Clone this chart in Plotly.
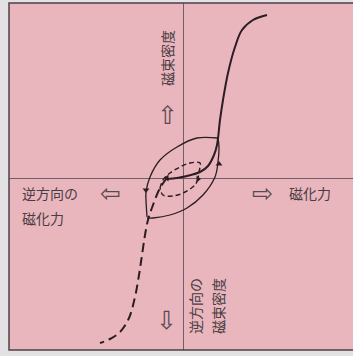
import plotly.graph_objects as go

# magnetizing force H (x) and flux density B (y), arbitrary units, origin at axis crossing
upper_h = [-16, -6, 4, 17, 25, 31, 34, 37, 40, 45, 52, 59, 70, 84]
upper_b = [-1, 0, 2, 6, 12, 23, 33, 58, 78, 105, 131, 148, 158, 163]

lower_h = [-16, -23, -30, -35, -38, -41, -44, -48, -54, -63, -73, -83]
lower_b = [0, -10, -27, -42, -57, -77, -97, -119, -140, -154, -161, -165]

loop_top_h = [35, 14, -6, -23, -33, -37, -37, -36]
loop_top_b = [40, 40, 31, 18, 1, -14, -22, -39]
loop_bot_h = [-36, -30, -13, 4, 20, 32, 35, 36, 35]
loop_bot_b = [-40, -40, -37, -30, -17, 1, 16, 31, 40]

inner_top_h = [-23, -20, -13, -3, 7, 17, 16, 15]
inner_top_b = [-10, -2, 5, 11, 15, 15, 6, -1]
inner_bot_h = [15, 12, 2, -10, -20, -23]
inner_bot_b = [-1, -7, -14, -18, -17, -10]

arrow_h = [-37, 36, -16, 15]
arrow_b = [-12, 14, 0, -1]
arrow_sym = ["triangle-down", "triangle-up", "triangle-left", "triangle-right"]

ink = "#2b1d22"
fig = go.Figure()
fig.add_trace(go.Scatter(x=upper_h, y=upper_b, mode="lines", line=dict(color=ink, width=2, shape="spline")))
fig.add_trace(go.Scatter(x=lower_h, y=lower_b, mode="lines",
                         line=dict(color=ink, width=2, shape="spline", dash="9px,5px")))
fig.add_trace(go.Scatter(x=loop_top_h, y=loop_top_b, mode="lines", line=dict(color=ink, width=1.3, shape="spline")))
fig.add_trace(go.Scatter(x=loop_bot_h, y=loop_bot_b, mode="lines", line=dict(color=ink, width=1.3, shape="spline")))
fig.add_trace(go.Scatter(x=inner_top_h, y=inner_top_b, mode="lines",
                         line=dict(color=ink, width=1.4, shape="spline", dash="5px,3px")))
fig.add_trace(go.Scatter(x=inner_bot_h, y=inner_bot_b, mode="lines",
                         line=dict(color=ink, width=1.4, shape="spline", dash="5px,3px")))
fig.add_trace(go.Scatter(x=arrow_h, y=arrow_b, mode="markers",
                         marker=dict(symbol=arrow_sym, size=6, color=ink)))

txt = "#4a3e44"
jp = "Noto Sans CJK JP"
notes = [
    (-16, 120, "磁束密度", -90, "center"),
    (12, -128, "逆方向の", -90, "center"),
    (35, -128, "磁束密度", -90, "center"),
    (-163, -15, "逆方向の", 0, "left"),
    (-163, -40, "磁化力", 0, "left"),
    (104, -15, "磁化力", 0, "left"),
]
for x, y, t, ang, anc in notes:
    fig.add_annotation(x=x, y=y, text=t, textangle=ang, xanchor=anc, yanchor="middle", showarrow=False,
                       font=dict(family=jp, size=14, color=txt))
for x, y, t in [(-16, 63, "⇧"), (-73, -15, "⇦"), (79, -15, "⇨"), (-17, -142, "⇩")]:
    fig.add_annotation(x=x, y=y, text=t, showarrow=False, xanchor="center", yanchor="middle",
                       font=dict(family="DejaVu Sans", size=25, color="#5a4a50"))

fig.add_shape(type="path", xref="paper", yref="paper", path="M 1.02 1 L 0 1 L 0 0 L 1.02 0",
              line=dict(color="#4e4248", width=1.5))

fig.update_xaxes(range=[-174, 170], showgrid=False, showticklabels=False, ticks="",
                 zeroline=True, zerolinecolor="#6e6066", zerolinewidth=1)
fig.update_yaxes(range=[-172, 175], showgrid=False, showticklabels=False, ticks="",
                 zeroline=True, zerolinecolor="#6e6066", zerolinewidth=1)
fig.update_layout(width=353, height=356, margin=dict(l=9, r=0, t=3, b=6),
                  paper_bgcolor="#e3e1e3", plot_bgcolor="#e9b6bd", showlegend=False)
fig.write_html("out.html", config={"displayModeBar": False},
               post_script="document.body.style.margin='0';document.body.style.overflow='hidden';")
